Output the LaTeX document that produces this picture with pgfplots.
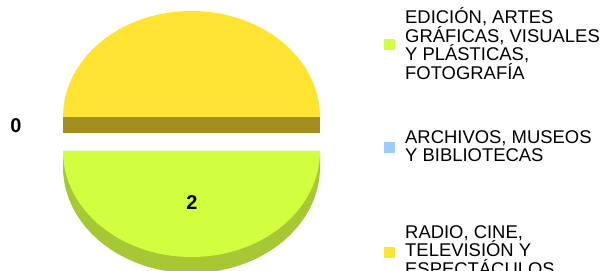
\documentclass[border=0pt]{standalone}
\usepackage{pgfplots}
\usepackage{pgfplotstable}
\pgfplotsset{compat=1.18}
\usepackage{fontspec}
\setmainfont{Liberation Sans}
\definecolor{yel}{HTML}{FFE333}
\definecolor{olivedark}{HTML}{A38F1F}
\definecolor{lime}{HTML}{D1FF40}
\definecolor{limeside}{HTML}{A6C834}
\definecolor{sky}{HTML}{9CCBFF}

% slice values: 0 = Edicion..., 1 = Archivos..., 2 = Radio...
\pgfplotstableread{
idx value
0 2
1 0
2 2
}\piedata
\pgfplotstablegetelem{0}{value}\of\piedata \let\va\pgfplotsretval
\pgfplotstablegetelem{1}{value}\of\piedata \let\vb\pgfplotsretval
\pgfplotstablegetelem{2}{value}\of\piedata \let\vc\pgfplotsretval
\pgfmathsetmacro\tot{\va+\vb+\vc}
\pgfmathsetmacro\aA{180}
\pgfmathsetmacro\aB{\aA+360*\va/\tot}
\pgfmathsetmacro\aC{\aB+360*\vb/\tot}
\pgfmathsetmacro\aD{\aC+360*\vc/\tot}

\newcommand\lgfont{\fontsize{18.5}{18.5}\selectfont}
\newcommand\lbfont{\fontsize{20}{20}\selectfont\bfseries}

\begin{document}
\begin{tikzpicture}
\useasboundingbox (0,0) rectangle (605bp,271bp);
\begin{axis}[width=605bp, height=271bp, scale only axis,
  xmin=0, xmax=605, ymin=0, ymax=271, hide axis, clip=false]
% green slice (exploded down): side then face
\fill[limeside] (axis cs:63,120) -- (axis cs:63,104)
   arc[start angle=\aA, end angle=\aB, x radius=128.5bp, y radius=106bp]
   -- (axis cs:320,120) -- cycle;
\fill[lime] (axis cs:63,120)
   arc[start angle=\aA, end angle=\aB, x radius=128.5bp, y radius=106bp] -- cycle;
% yellow slice: top face and front cut face
\fill[yel] (axis cs:320,154)
   arc[start angle=\aC, end angle=\aD, x radius=128.5bp, y radius=106bp] -- cycle;
\fill[olivedark] (axis cs:63,154) rectangle (axis cs:320,138);
% value labels
\node[font=\lbfont] at (axis cs:16,145) {\vb};
\node[font=\lbfont] at (axis cs:192,68) {\va};
% legend swatches
\fill[lime] (axis cs:384,232) rectangle (axis cs:395,221);
\fill[sky] (axis cs:384,128.5) rectangle (axis cs:395,117.5);
\fill[yel] (axis cs:384,24) rectangle (axis cs:395,13);
% legend text
\begin{scope}[every node/.style={anchor=base west, inner sep=0, font=\lgfont}]
\node at (axis cs:405,247) {EDICIÓN, ARTES};
\node at (axis cs:405,228.5) {GRÁFICAS, VISUALES};
\node at (axis cs:405,210) {Y PLÁSTICAS,};
\node at (axis cs:405,191.5) {FOTOGRAFÍA};
\node at (axis cs:405,127.7) {ARCHIVOS, MUSEOS};
\node at (axis cs:405,109.3) {Y BIBLIOTECAS};
\node at (axis cs:405,32.7) {RADIO, CINE,};
\node at (axis cs:405,14.3) {TELEVISIÓN Y};
\node at (axis cs:405,-4) {ESPECTÁCULOS};
\end{scope}
\end{axis}
\end{tikzpicture}
\end{document}
